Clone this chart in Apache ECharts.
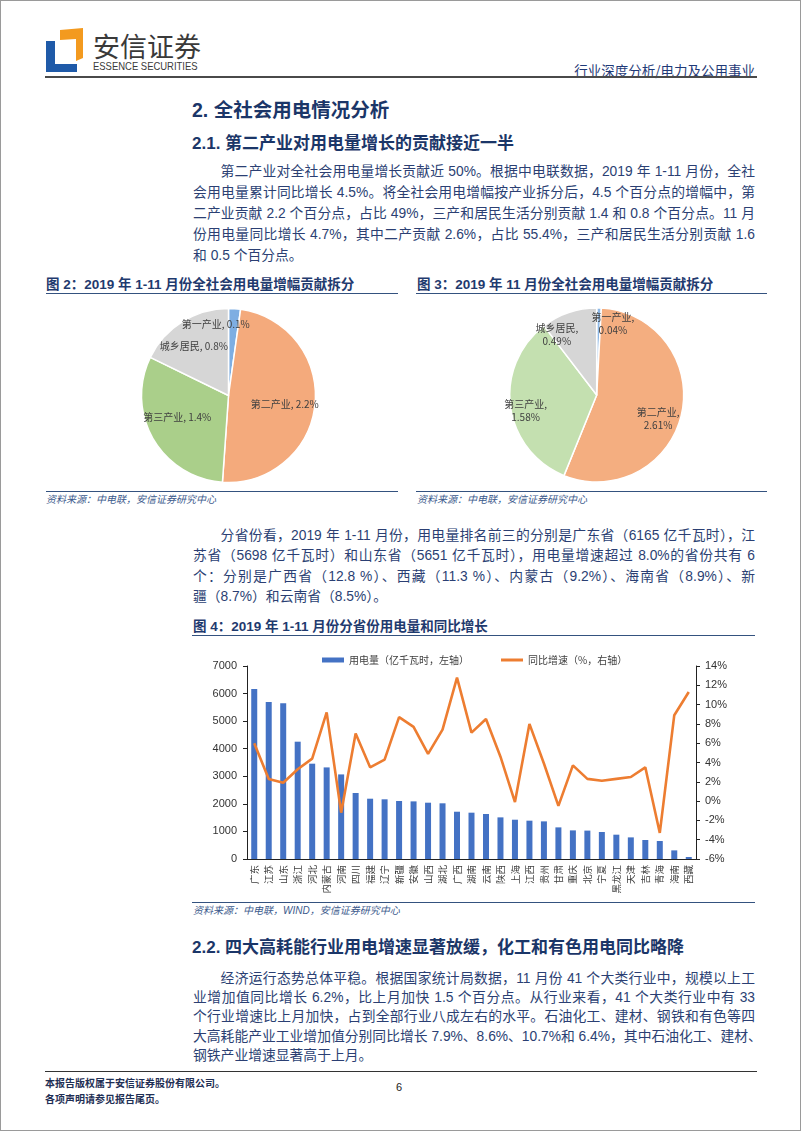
<!DOCTYPE html>
<html><head><meta charset="utf-8">
<script src="https://cdn.jsdelivr.net/npm/echarts@6/dist/echarts.min.js"></script>
<style>
html,body{margin:0;padding:0;background:#fff;}
#page{position:relative;width:802px;height:1133px;overflow:hidden;font-family:"Liberation Sans","Noto Sans CJK SC",sans-serif;background:#fff;}
.abs{position:absolute;white-space:nowrap;}
.frame{position:absolute;left:0;top:0;width:799px;height:1129px;border:1.5px solid #9a9a9a;}
.hl{position:absolute;height:0;}
.txt{position:absolute;left:193px;width:562px;font-size:13.8px;color:#2B3F73;}
.txt div{text-align:justify;text-align-last:justify;white-space:nowrap;}
.txt div.ind{padding-left:2em;}
.txt div.last{text-align-last:left;}
.h1{font-family:"Liberation Sans","Noto Sans CJK SC";font-weight:700;font-size:19.5px;color:#1B3668;}
.h2{font-family:"Liberation Sans","Noto Sans CJK SC";font-weight:700;font-size:17px;color:#1B3668;}
.ft{font-weight:700;font-size:13.5px;color:#1F3A6E;}
.src{font-style:italic;font-size:10px;color:#3C5A8C;}
#chart{position:absolute;left:0;top:0;width:802px;height:1133px;z-index:2;}
</style></head>
<body><div id="page">
<div class="frame"></div>
<svg class="abs" style="left:0;top:0" width="100" height="80">
  <polygon points="60,30 83,28 83,58 76,61 76,39 60,40" fill="#F39A1F"/>
  <polygon points="46,41 55,41 55,64 77,64 77,72 46,72" fill="#1F5AA8"/>
</svg>
<div class="abs" style="left:93px;top:28px;font-size:27px;line-height:36px;color:#3a3a3a;font-family:'Noto Sans CJK SC';">安信证券</div>
<div class="abs" style="left:93px;top:60px;font-size:11px;line-height:13px;color:#3a3a3a;font-family:'Liberation Sans Narrow','Liberation Sans';transform:scaleX(0.86);transform-origin:0 0;">ESSENCE SECURITIES</div>
<div class="abs" style="right:47px;top:61px;font-size:13.5px;line-height:18px;color:#1F3A78;font-family:'Noto Sans CJK SC';">行业深度分析/电力及公用事业</div>
<div class="hl" style="left:45px;top:76px;width:712px;border-top:2px solid #4a4a4a;"></div>

<div class="abs h1" style="left:192px;top:97px;line-height:26px;">2. 全社会用电情况分析</div>
<div class="abs h2" style="left:192px;top:132px;line-height:24px;">2.1. 第二产业对用电量增长的贡献接近一半</div>

<div class="txt" style="top:161px;line-height:21px;">
<div class="ind">第二产业对全社会用电量增长贡献近 50%。根据中电联数据，2019 年 1-11 月份，全社</div>
<div>会用电量累计同比增长 4.5%。将全社会用电增幅按产业拆分后，4.5 个百分点的增幅中，第</div>
<div>二产业贡献 2.2 个百分点，占比 49%，三产和居民生活分别贡献 1.4 和 0.8 个百分点。11 月</div>
<div>份用电量同比增长 4.7%，其中二产贡献 2.6%，占比 55.4%，三产和居民生活分别贡献 1.6</div>
<div class="last">和 0.5 个百分点。</div>
</div>

<div class="abs ft" style="left:46px;top:275px;line-height:20px;">图 2：2019 年 1-11 月份全社会用电量增幅贡献拆分</div>
<div class="hl" style="left:46px;top:293px;width:352px;border-top:1.5px solid #34527F;"></div>
<div class="abs ft" style="left:417px;top:275px;line-height:20px;">图 3：2019 年 11 月份全社会用电量增幅贡献拆分</div>
<div class="hl" style="left:416px;top:293px;width:351px;border-top:1.5px solid #34527F;"></div>
<div class="hl" style="left:46px;top:491px;width:352px;border-top:1px solid #34527F;"></div>
<div class="hl" style="left:416px;top:491px;width:351px;border-top:1px solid #34527F;"></div>
<div class="abs src" style="left:46px;top:493px;line-height:14px;">资料来源：中电联，安信证券研究中心</div>
<div class="abs src" style="left:417px;top:493px;line-height:14px;">资料来源：中电联，安信证券研究中心</div>

<div class="txt" style="top:525.7px;line-height:20.6px;">
<div class="ind">分省份看，2019 年 1-11 月份，用电量排名前三的分别是广东省（6165 亿千瓦时），江</div>
<div>苏省（5698 亿千瓦时）和山东省（5651 亿千瓦时），用电量增速超过 8.0%的省份共有 6</div>
<div>个：分别是广西省（12.8 %）、西藏（11.3 %）、内蒙古（9.2%）、海南省（8.9%）、新</div>
<div class="last">疆（8.7%）和云南省（8.5%）。</div>
</div>

<div class="abs ft" style="left:193px;top:617px;line-height:20px;">图 4：2019 年 1-11 月份分省份用电量和同比增长</div>
<div class="hl" style="left:192px;top:635px;width:563px;border-top:1.5px solid #34527F;"></div>
<div class="hl" style="left:192px;top:902px;width:563px;border-top:1px solid #34527F;"></div>
<div class="abs src" style="left:193px;top:904px;line-height:14px;">资料来源：中电联，WIND，安信证券研究中心</div>

<div class="abs h2" style="left:192px;top:936px;line-height:24px;">2.2. 四大高耗能行业用电增速显著放缓，化工和有色用电同比略降</div>

<div class="txt" style="top:968.6px;line-height:19.4px;">
<div class="ind">经济运行态势总体平稳。根据国家统计局数据，11 月份 41 个大类行业中，规模以上工</div>
<div>业增加值同比增长 6.2%，比上月加快 1.5 个百分点。从行业来看，41 个大类行业中有 33</div>
<div>个行业增速比上月加快，占到全部行业八成左右的水平。石油化工、建材、钢铁和有色等四</div>
<div>大高耗能产业工业增加值分别同比增长 7.9%、8.6%、10.7%和 6.4%，其中石油化工、建材、</div>
<div class="last">钢铁产业增速显著高于上月。</div>
</div>

<div class="hl" style="left:45px;top:1071px;width:712px;border-top:1.5px solid #333;"></div>
<div class="abs" style="left:45px;top:1076px;font-size:10px;line-height:14px;font-weight:700;color:#1F2F55;font-family:'Noto Sans CJK SC';">本报告版权属于安信证券股份有限公司。</div>
<div class="abs" style="left:45px;top:1092px;font-size:10px;line-height:14px;font-weight:700;color:#1F2F55;font-family:'Noto Sans CJK SC';">各项声明请参见报告尾页。</div>
<div class="abs" style="left:396px;top:1079px;font-size:11px;line-height:16px;color:#222;">6</div>

<div id="chart"></div>
</div>
<script>
// ---- data ----
const pieNames = ['第一产业', '第二产业', '第三产业', '城乡居民'];
const pie1Values = [0.1, 2.2, 1.4, 0.8];
const pie2Values = [0.04, 2.61, 1.58, 0.49];

const provinces = ['广东','江苏','山东','浙江','河北','内蒙古','河南','四川','福建','辽宁','新疆','安徽','山西','湖北','广西','湖南','云南','陕西','上海','江西','贵州','甘肃','重庆','北京','宁夏','黑龙江','天津','吉林','青海','海南','西藏'];
const usage = [6165,5698,5651,4255,3457,3322,3068,2394,2187,2165,2104,2090,2042,2020,1715,1680,1632,1510,1425,1390,1365,1147,1038,1030,980,882,784,690,652,313,73];
const growth = [6.0,2.3,1.9,3.3,4.4,9.2,-1.2,7.0,3.5,4.3,8.7,7.7,4.9,7.4,12.8,7.1,8.5,4.6,-0.1,8.0,3.9,-0.5,3.7,2.3,2.1,2.3,2.5,3.5,-3.3,8.9,11.3];
const leftTicks = {min: 0, max: 7000, interval: 1000};
const rightTicks = {min: -6, max: 14, interval: 2};
const seriesNames = ['用电量（亿千瓦时，左轴）', '同比增速（%，右轴）'];

// ---- styles ----
const pie1Colors = ['#7EAEE2', '#F4AA7C', '#AACF8A', '#D6D6D6'];
const pie2Colors = ['#8DB8E6', '#F4AE80', '#C4E0B0', '#D6D6D6'];
const pie1LabelShift = [[-16, -25], [10, 4], [-11, -2], [-10, -10]];
const pie2LabelShift = [[15, -25], [16, 14], [-25, 10], [-25, -16]];
const cjk = "'Noto Sans CJK SC', sans-serif";

function pieSeries(values, colors, center, fmt, shifts) {
  return {
    type: 'pie', center: center, radius: 87, startAngle: 90, clockwise: true,
    avoidLabelOverlap: false, silent: true,
    data: pieNames.map((n, i) => ({name: n, value: values[i], itemStyle: {color: colors[i]}})),
    itemStyle: {borderColor: '#fff', borderWidth: 1.5},
    label: {show: true, position: 'inside', formatter: fmt, fontSize: 10, lineHeight: 13,
      color: '#404040', fontFamily: cjk},
    labelLine: {show: false},
    labelLayout: p => ({dx: shifts[p.dataIndex][0], dy: shifts[p.dataIndex][1]}),
    emphasis: {disabled: true}
  };
}

const chart = echarts.init(document.getElementById('chart'), null, {renderer: 'canvas'});
chart.setOption({
  animation: false,
  backgroundColor: 'transparent',
  legend: {
    left: 317, top: 650, itemWidth: 22, itemHeight: 5, itemGap: 32,
    textStyle: {fontSize: 10, color: '#404040', fontFamily: cjk},
    data: [
      {name: seriesNames[0], icon: 'rect'},
      {name: seriesNames[1], icon: 'path://M0,0 L22,0 L22,3 L0,3 Z', itemStyle: {color: '#ED7D31'}}
    ],
    selectedMode: false
  },
  grid: {left: 247, right: 106, top: 666, bottom: 274, containLabel: false, outerBoundsMode: 'none'},
  xAxis: {
    type: 'category', data: provinces,
    axisLine: {lineStyle: {color: '#222', width: 1}},
    axisTick: {show: false},
    axisLabel: {rotate: 90, interval: 0, fontSize: 9.5, color: '#404040', margin: 6, fontFamily: cjk},
    splitLine: {show: false}
  },
  yAxis: [
    {type: 'value', min: leftTicks.min, max: leftTicks.max, interval: leftTicks.interval,
      axisLine: {show: true, lineStyle: {color: '#222', width: 1}},
      axisTick: {show: true, length: 4, lineStyle: {color: '#222'}},
      axisLabel: {fontSize: 11, color: '#333', margin: 10, fontFamily: "'Liberation Sans'",
        formatter: v => String(v)},
      splitLine: {show: false}},
    {type: 'value', position: 'right', min: rightTicks.min, max: rightTicks.max, interval: rightTicks.interval,
      axisLine: {show: true, lineStyle: {color: '#222', width: 1}},
      axisTick: {show: true, length: 4, lineStyle: {color: '#222'}},
      axisLabel: {fontSize: 11, color: '#333', margin: 9, formatter: '{value}%', fontFamily: "'Liberation Sans'"},
      splitLine: {show: false}}
  ],
  series: [
    pieSeries(pie1Values, pie1Colors, [228.5, 395.5], '{b}, {c}%', pie1LabelShift),
    pieSeries(pie2Values, pie2Colors, [596.7, 395], '{b},\n{c}%', pie2LabelShift),
    {name: seriesNames[0], type: 'bar', yAxisIndex: 0, data: usage, barWidth: 6,
      itemStyle: {color: '#4472C4'}, silent: true},
    {name: seriesNames[1], type: 'line', yAxisIndex: 1, data: growth, symbol: 'none',
      lineStyle: {color: '#ED7D31', width: 2.6}, itemStyle: {color: '#ED7D31'}, silent: true}
  ]
});
</script>
</body></html>
